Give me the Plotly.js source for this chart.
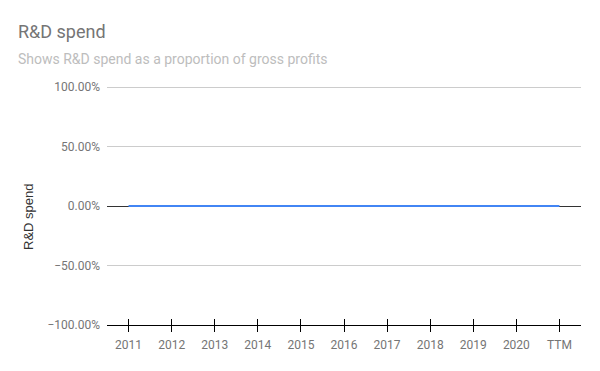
<!DOCTYPE html>
<html>
<head>
<meta charset="utf-8">
<script src="https://cdn.plot.ly/plotly-3.0.1.min.js"></script>
<style>html,body{margin:0;padding:0;background:#fff}#chart{width:600px;height:371px}</style>
</head>
<body>
<div id="chart"></div>
<script>
const categories = ['2011','2012','2013','2014','2015','2016','2017','2018','2019','2020','TTM'];
const rdSpend = [0,0,0,0,0,0,0,0,0,0,0];
const yTicks = [-1,-0.5,0,0.5,1];
const titleText = 'R&amp;D spend';
const subtitleText = 'Shows R&amp;D spend as a proportion of gross profits';
const yTitle = 'R&amp;D spend';

const traces = [
  {x: categories, y: rdSpend, type: 'scatter', mode: 'lines',
   line: {color: '#4285F4', width: 2}, hoverinfo: 'skip', showlegend: false},
  {x: categories, y: rdSpend, type: 'scatter', mode: 'lines', xaxis: 'x2',
   line: {color: 'rgba(0,0,0,0)', width: 0}, hoverinfo: 'skip', showlegend: false}
];

const layout = {
  width: 600, height: 371,
  margin: {l: 107, r: 19, t: 85, b: 46},
  paper_bgcolor: '#fff', plot_bgcolor: '#fff',
  font: {family: 'Roboto, Arial, sans-serif', color: '#757575', size: 12},
  title: {
    text: titleText, x: 18/600, xanchor: 'left', xref: 'container',
    y: 1 - 38/371, yanchor: 'bottom', yref: 'container',
    font: {size: 18, color: '#757575'},
    subtitle: {text: subtitleText, font: {size: 14, color: '#bdbdbd'}}
  },
  xaxis: {
    type: 'category', range: [-0.5, 10.5],
    showgrid: false, zeroline: false,
    showline: true, linecolor: '#000', linewidth: 1,
    ticks: 'outside', ticklen: 6, tickcolor: '#000', tickwidth: 1,
    ticklabelstandoff: 3,
    tickfont: {size: 12, color: '#757575'}, fixedrange: true
  },
  xaxis2: {
    type: 'category', range: [-0.5, 10.5], overlaying: 'x', anchor: 'y', side: 'bottom',
    showgrid: false, zeroline: false, showline: false, showticklabels: false,
    ticks: 'inside', ticklen: 6, tickcolor: '#000', tickwidth: 1, fixedrange: true
  },
  yaxis: {
    range: [-1, 1.0168], tickvals: yTicks, tickformat: '.2%',
    showgrid: true, gridcolor: '#cccccc', gridwidth: 1,
    zeroline: true, zerolinecolor: '#333333', zerolinewidth: 1,
    showline: false, ticks: '', ticklabelstandoff: 6,
    tickfont: {size: 12, color: '#757575'},
    fixedrange: true
  },
  annotations: [{
    text: yTitle, textangle: -90, showarrow: false,
    xref: 'paper', yref: 'paper', x: -79/474, y: (325 - 217) / 240,
    xanchor: 'center', yanchor: 'middle',
    font: {family: 'Liberation Sans, Arial, sans-serif', size: 13, color: '#333'}
  }]
};

Plotly.newPlot('chart', traces, layout, {displayModeBar: false, staticPlot: true});
</script>
</body>
</html>
